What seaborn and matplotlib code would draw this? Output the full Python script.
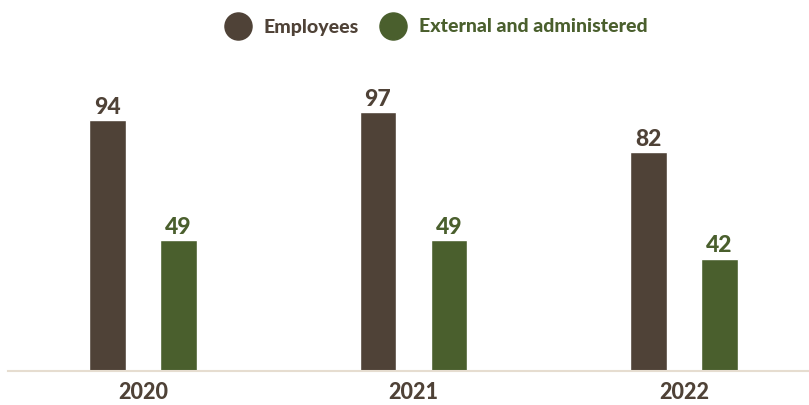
import matplotlib
matplotlib.use("Agg")
import matplotlib.pyplot as plt
from matplotlib.lines import Line2D
import pandas as pd
import seaborn as sns

years = ["2020", "2021", "2022"]
series = ["Employees", "External and administered"]
employees = [94, 97, 82]
external = [49, 49, 42]
colors = ["#4f4237", "#4a5f2d"]
axis_color = "#e6ddd0"

sns.set_theme(style="white")
plt.rcParams["font.family"] = ["Lato", "DejaVu Sans"]

df = pd.DataFrame({
    "year": years * 2,
    "group": [series[0]] * 3 + [series[1]] * 3,
    "value": employees + external,
})

fig = plt.figure(figsize=(8.09, 4.05), dpi=100)
ax = fig.add_axes([8 / 809, 34 / 405, 801 / 809, 291.5 / 405])

sns.barplot(data=df, x="year", y="value", hue="group", hue_order=series,
            palette=colors, width=0.525, gap=0.48, saturation=1,
            legend=False, ax=ax)

ax.set_xlim(-0.499, 2.462)
ax.set_ylim(0, 109.3)

for container, col in zip(ax.containers, colors):
    ax.bar_label(container, padding=2, color=col, fontsize=16.5,
                 fontweight="black")

for side in ["top", "right", "left"]:
    ax.spines[side].set_visible(False)
ax.spines["bottom"].set_color(axis_color)
ax.spines["bottom"].set_linewidth(1.5)
ax.set_yticks([])
ax.set_xlabel("")
ax.set_ylabel("")
ax.tick_params(axis="x", length=0, pad=8)
for lbl in ax.get_xticklabels():
    lbl.set_fontsize(15.5)
    lbl.set_fontweight("black")
    lbl.set_color(colors[0])

handles = [Line2D([], [], linestyle="", marker="o", markersize=19.5,
                  markerfacecolor=c, markeredgecolor=c) for c in colors]
fig.legend(handles, series, loc="center", bbox_to_anchor=(0.535, 1 - 27 / 405),
           ncol=2, frameon=False, labelcolor=colors, handletextpad=0.3,
           columnspacing=0.8, prop={"weight": "black", "size": 14})

fig.savefig("out.png", dpi=100)
